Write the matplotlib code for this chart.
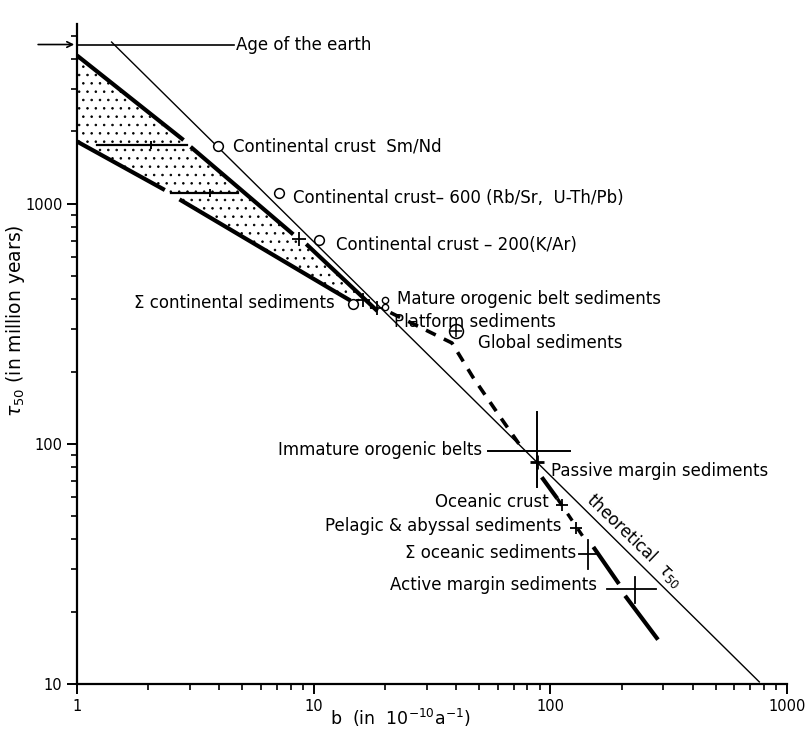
import matplotlib
matplotlib.use("Agg")
import matplotlib.pyplot as plt
from matplotlib.ticker import FixedLocator, NullFormatter, LogLocator

# theoretical tau50 line (b, tau)
theo_b = [1.40, 764]
theo_tau = [4710, 10.2]

age_tau = 4600
age_b_end = 4.6

# continental band: bold edges, broken where the bars / crosses sit
upper_segs = [([1.0, 2.82], [4140, 1840]),
              ([3.02, 8.2], [1725, 745]),
              ([9.3, 18.6], [679, 357])]
lower_segs = [([1.0, 2.35], [1815, 1140]),
              ([2.71, 12.0, 14.3], [1042, 437, 395])]
band_b = [1.0, 8.4, 18.6, 14.3, 12.0, 2.71, 2.35, 1.0]
band_tau = [4140, 730, 357, 395, 437, 1042, 1140, 1815]

# horizontal bars across the band (b_lo, b_mid, b_hi, tau)
bars_lo = [1.22, 2.49]
bars_mid = [2.06, 3.64]
bars_hi = [2.93, 4.80]
bars_tau = [1750, 1110]

# continental crust estimates (open circles on the theoretical line)
crust_b = [3.94, 7.16, 10.5]
crust_tau = [1743, 1107, 703]
crust_labels = ["Continental crust  Sm/Nd",
                "Continental crust\u2013 600 (Rb/Sr,  U-Th/Pb)",
                "Continental crust \u2013 200(K/Ar)"]

cross_b = [8.63, 16.1, 18.6]
cross_tau = [711, 398, 367]

sum_cont = (14.6, 382)
mature = (20.0, 398)
platform = (20.0, 372)
global_sed = (40.1, 296)

# sediment trend (dashed) from platform to immature orogenic belts
sed_b = [21.1, 38.4, 47.0, 62.2, 75.3]
sed_tau = [352, 263, 190, 127, 97.0]

# immature orogenic belts: centre and error ranges
imm_b, imm_tau = 88.0, 93.0
imm_b_rng = [54.6, 121]
imm_tau_rng = [65.9, 136]

passive = (88.1, 83.7)
oceanic_crust = (112, 55.4)
pelagic = (128, 44.7)

sum_oc_b, sum_oc_tau = 144, 34.7
sum_oc_b_rng = [132, 157]
sum_oc_tau_rng = [30.0, 39.6]

act_b, act_tau = 227, 24.8
act_b_rng = [174, 280]
act_tau_rng = [21.7, 27.8]

# oceanic trend: bold pieces and dashed piece
ocean_bold = [([92, 107], [72.6, 59.2]),
              ([152, 195], [37.2, 26.1]),
              ([207, 285], [23.3, 15.3])]
ocean_dash_b = [107, 140]
ocean_dash_tau = [59.2, 40.0]

FS = 12
plt.rcParams["hatch.linewidth"] = 0.6

fig = plt.figure(figsize=(8.09, 7.31), dpi=100)
ax = fig.add_axes([77 / 809, 47 / 731, 710 / 809, 660 / 731])
ax.set_xscale("log")
ax.set_yscale("log")
ax.set_xlim(1, 1000)
ax.set_ylim(10, 5600)

for s in ["top", "right"]:
    ax.spines[s].set_visible(False)
for s in ["left", "bottom"]:
    ax.spines[s].set_linewidth(1.6)

ax.xaxis.set_major_locator(FixedLocator([1, 10, 100, 1000]))
ax.set_xticklabels(["1", "10", "100", "1000"])
ax.yaxis.set_major_locator(FixedLocator([10, 100, 1000]))
ax.set_yticklabels(["10", "100", "1000"])
ax.xaxis.set_minor_locator(LogLocator(base=10, subs=range(2, 10)))
ax.yaxis.set_minor_locator(LogLocator(base=10, subs=range(2, 10)))
ax.xaxis.set_minor_formatter(NullFormatter())
ax.yaxis.set_minor_formatter(NullFormatter())
ax.tick_params(which="major", direction="out", length=7, width=1.4, labelsize=10.5)
ax.tick_params(which="minor", direction="out", length=4.5, width=1.2)

# stippled band
ax.fill(band_b, band_tau, facecolor="none", edgecolor="black", hatch="..", linewidth=0)
for xs, ys in upper_segs + lower_segs:
    ax.plot(xs, ys, color="black", lw=3.0, solid_capstyle="butt")

for lo, mid, hi, t in zip(bars_lo, bars_mid, bars_hi, bars_tau):
    ax.plot([lo, hi], [t, t], color="black", lw=1.6)
    ax.plot([mid], [t], marker="|", ms=6, mew=1.4, color="black")

# theoretical line and age of the earth
ax.plot(theo_b, theo_tau, color="black", lw=1.0)
ax.plot([1.0, age_b_end], [age_tau, age_tau], color="black", lw=1.2, clip_on=False)
ax.annotate("", xy=(1.0, age_tau), xytext=(-30, 0), textcoords="offset points",
            arrowprops=dict(arrowstyle="->", lw=1.2, color="black"),
            annotation_clip=False)
ax.text(age_b_end * 1.02, age_tau, "Age of the earth", fontsize=FS, va="center")

# continental crust
ax.plot(crust_b, crust_tau, "o", ms=7, mfc="white", mec="black", mew=1.1, zorder=5)
label_pos = [(4.55, 1722), (8.19, 1061), (12.4, 675)]
for (tx, ty), lab in zip(label_pos, crust_labels):
    ax.text(tx, ty, lab, fontsize=FS, va="center")

ax.plot(cross_b, cross_tau, "+", ms=10, mew=1.3, color="black", zorder=5)
ax.plot(*sum_cont, "o", ms=7, mfc="white", mec="black", mew=1.1, zorder=5)
ax.plot(*mature, "o", ms=4.5, mfc="white", mec="black", mew=1.0, zorder=5)
ax.plot(*platform, "o", ms=4.5, mfc="white", mec="black", mew=1.0, zorder=5)
ax.text(12.3, 386, "\u03a3 continental sediments", fontsize=FS, va="center", ha="right")
ax.text(22.4, 402, "Mature orogenic belt sediments", fontsize=FS, va="center")
ax.text(21.9, 322, "Platform sediments", fontsize=FS, va="center")

# global sediments
ax.plot(*global_sed, "o", ms=10, mfc="white", mec="black", mew=1.1, zorder=5)
ax.plot(*global_sed, "+", ms=8, mew=1.1, color="black", zorder=6)
ax.text(49.6, 264, "Global sediments", fontsize=FS, va="center")
ax.plot(sed_b, sed_tau, color="black", lw=2.6, dashes=(3, 2.5))

# immature orogenic belts / passive margin
ax.plot(imm_b_rng, [imm_tau, imm_tau], color="black", lw=1.4)
ax.plot([imm_b, imm_b], imm_tau_rng, color="black", lw=1.4)
ax.text(51.5, 94.5, "Immature orogenic belts", fontsize=FS, va="center", ha="right")
ax.plot(*passive, "+", ms=10, mew=2.0, color="black", zorder=5)
ax.text(101, 77.2, "Passive margin sediments", fontsize=FS, va="center")

# oceanic side
for xs, ys in ocean_bold:
    ax.plot(xs, ys, color="black", lw=3.0, solid_capstyle="butt")
ax.plot(ocean_dash_b, ocean_dash_tau, color="black", lw=2.4, dashes=(2.5, 3))
ax.plot(*oceanic_crust, "+", ms=8, mew=1.3, color="black", zorder=5)
ax.plot(*pelagic, "+", ms=8, mew=1.3, color="black", zorder=5)
ax.text(98.2, 57.3, "Oceanic crust", fontsize=FS, va="center", ha="right")
ax.text(111, 45.3, "Pelagic & abyssal sediments", fontsize=FS, va="center", ha="right")

ax.plot(sum_oc_b_rng, [sum_oc_tau, sum_oc_tau], color="black", lw=1.3)
ax.plot([sum_oc_b, sum_oc_b], sum_oc_tau_rng, color="black", lw=1.3)
ax.text(129, 35.2, "\u03a3 oceanic sediments", fontsize=FS, va="center", ha="right")

ax.plot(act_b_rng, [act_tau, act_tau], color="black", lw=1.3)
ax.plot([act_b, act_b], act_tau_rng, color="black", lw=1.3)
ax.text(158, 25.8, "Active margin sediments", fontsize=FS, va="center", ha="right")

ax.text(228, 39.6, r"theoretical  $\tau_{50}$", fontsize=FS, rotation=-44,
        ha="center", va="center", rotation_mode="anchor")

ax.set_xlabel(r"b  (in  10$^{-10}$a$^{-1}$)", fontsize=12.5)
ax.xaxis.set_label_coords(0.455, -0.035)
ax.set_ylabel(r"$\tau_{50}$ (in million years)", fontsize=13.5)
ax.yaxis.set_label_coords(-0.07, 0.55)

fig.savefig("out.png", dpi=100)
